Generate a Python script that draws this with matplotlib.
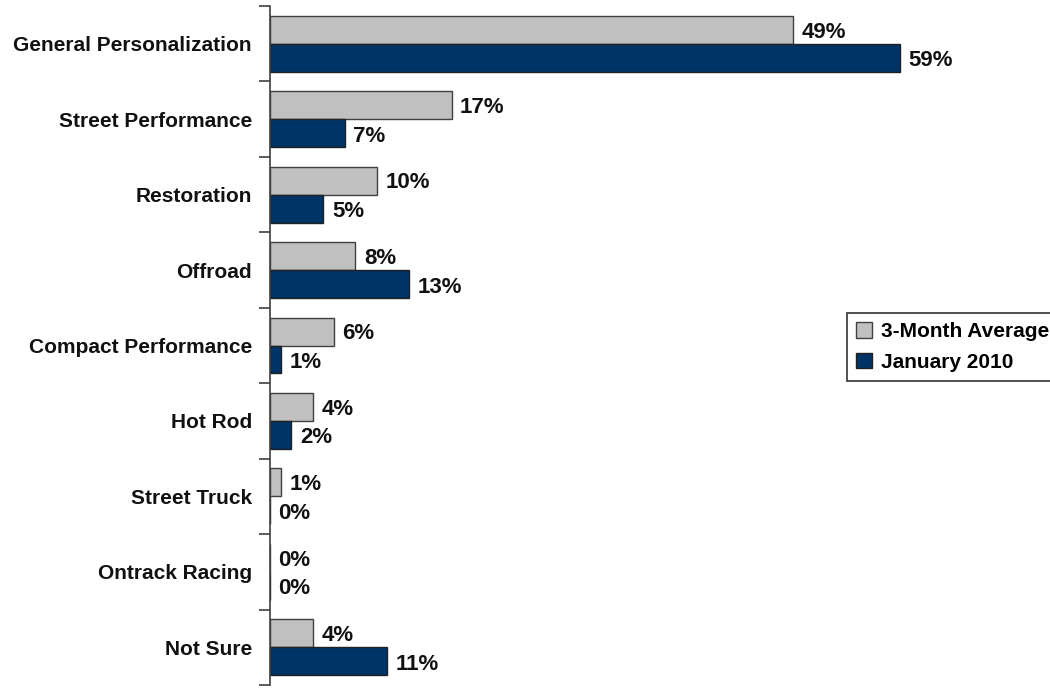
import matplotlib
matplotlib.use("Agg")
import matplotlib.pyplot as plt
import numpy as np

categories = ['General Personalization', 'Street Performance', 'Restoration', 'Offroad',
              'Compact Performance', 'Hot Rod', 'Street Truck', 'Ontrack Racing', 'Not Sure']
avg_3month = [49, 17, 10, 8, 6, 4, 1, 0, 4]
jan_2010 = [59, 7, 5, 13, 1, 2, 0, 0, 11]
series_names = ['3-Month Average', 'January 2010']

plt.rcParams['font.family'] = ['Liberation Sans', 'DejaVu Sans']

fig = plt.figure(figsize=(10.5, 6.88), dpi=100)
ax = fig.add_axes([270 / 1050, 3 / 688, 72 * 10.68 / 1050, 679 / 688])

y = np.arange(len(categories))
h = 0.37
ax.barh(y - h / 2, avg_3month, height=h, color='#C0C0C0', edgecolor='#404040',
        linewidth=1, label=series_names[0])
ax.barh(y + h / 2, jan_2010, height=h, color='#003366', edgecolor='#202020',
        linewidth=1, label=series_names[1])

fs = 15
vfs = 16
for i in range(len(categories)):
    ax.text(avg_3month[i] + 0.8, y[i] - h / 2 + 0.03, f'{avg_3month[i]}%', va='center', ha='left',
            fontsize=vfs, fontweight='bold', color='#111111')
    ax.text(jan_2010[i] + 0.8, y[i] + h / 2 + 0.04, f'{jan_2010[i]}%', va='center', ha='left',
            fontsize=vfs, fontweight='bold', color='#111111')

ax.set_xlim(0, 72)
ax.set_ylim(len(categories) - 0.5, -0.5)
ax.set_yticks(y)
ax.set_yticklabels(categories, fontsize=fs, fontweight='bold', color='#111111')
ax.set_yticks(np.arange(-0.5, len(categories), 1), minor=True)
ax.tick_params(axis='y', which='major', length=0, pad=13)
ax.tick_params(axis='y', which='minor', length=8, width=1.2, color='#404040')
ax.set_xticks([])
for s in ['top', 'right', 'bottom']:
    ax.spines[s].set_visible(False)
ax.spines['left'].set_color('#404040')
ax.spines['left'].set_linewidth(1.2)

leg = fig.legend(loc='upper left', bbox_to_anchor=(847 / 1050, 1 - 313 / 688),
                 frameon=True, fancybox=False, edgecolor='black', handlelength=0.75,
                 handleheight=0.75, handletextpad=0.45, borderpad=0.45, labelspacing=0.55,
                 borderaxespad=0, prop={'weight': 'bold', 'size': fs})
leg.get_frame().set_linewidth(1.2)

fig.savefig('out.png', dpi=100)
